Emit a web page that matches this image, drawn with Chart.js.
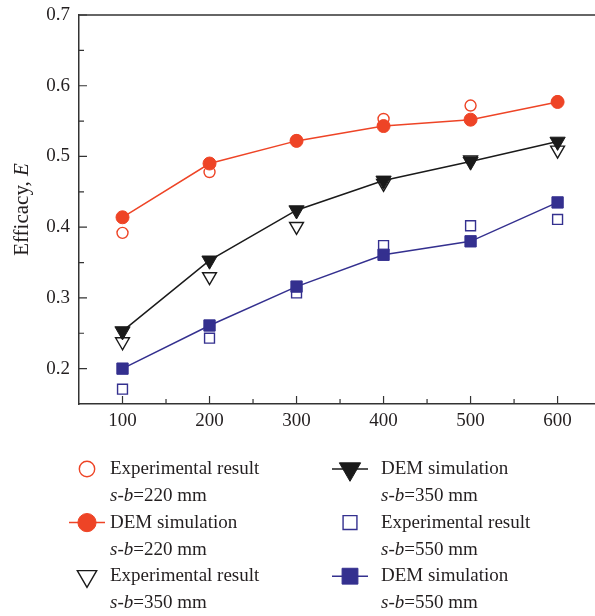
<!DOCTYPE html>
<html>
<head>
<meta charset="utf-8">
<script src="https://cdn.jsdelivr.net/npm/chart.js@4.4.1/dist/chart.umd.min.js"></script>
<style>
  html, body { margin: 0; padding: 0; background: #fff; overflow: hidden; }
  #wrap { position: relative; width: 595px; height: 616px; }
  #chart { display: block; }
</style>
</head>
<body>
<div id="wrap"><canvas id="chart"></canvas></div>
<script>
// Efficacy vs gap, experimental and DEM results
const gapValues = [100, 200, 300, 400, 500, 600];
const exp220 = [0.392, 0.478, 0.523, 0.553, 0.572, 0.578];
const dem220 = [0.414, 0.490, 0.522, 0.543, 0.552, 0.577];
const exp350 = [0.238, 0.330, 0.401, 0.462, 0.495, 0.509];
const dem350 = [0.253, 0.353, 0.424, 0.466, 0.493, 0.521];
const exp550 = [0.171, 0.243, 0.307, 0.374, 0.402, 0.411];
const dem550 = [0.200, 0.261, 0.316, 0.361, 0.380, 0.435];

const xTicks = [100, 200, 300, 400, 500, 600];
const xMinorTicks = [150, 250, 350, 450, 550];
const yTicks = [0.2, 0.3, 0.4, 0.5, 0.6, 0.7];
const yMinorTicks = [0.25, 0.35, 0.45, 0.55, 0.65];
const sbValues = ['220', '350', '550'];

const RED = '#ee4426';
const BLACK = '#1a1a1a';
const BLUE = '#34308f';
const TEXT = '#231f20';
const FONT = '"Liberation Serif", "DejaVu Serif", serif';

const pts = ys => gapValues.map((x, i) => ({ x: x, y: ys[i] }));

function expSet(ys, color, style, r, sb) {
    return {
        label: 'Experimental result', sb: sb,
        data: pts(ys), showLine: false, order: 2,
        pointStyle: style, pointRadius: r, pointHoverRadius: r,
        pointRotation: style === 'triangle' ? 180 : 0,
        pointBackgroundColor: 'rgba(0,0,0,0)', pointBorderColor: color,
        pointBorderWidth: 1.4, borderColor: color, borderWidth: 0
    };
}
function demSet(ys, color, style, r, sb) {
    return {
        label: 'DEM simulation', sb: sb,
        data: pts(ys), showLine: true, order: 1,
        pointStyle: style, pointRadius: r, pointHoverRadius: r,
        pointRotation: style === 'triangle' ? 180 : 0,
        pointBackgroundColor: color, pointBorderColor: color,
        pointBorderWidth: 1, borderColor: color, borderWidth: 1.5,
        tension: 0
    };
}

// y-title, top frame line, inward ticks and the two-column legend
const decorPlugin = {
    id: 'decor',
    afterDraw(chart) {
        const ctx = chart.ctx;
        const area = chart.chartArea;
        const xs = chart.scales.x, ys = chart.scales.y;
        ctx.save();
        ctx.strokeStyle = '#333';
        ctx.lineWidth = 1.5;
        ctx.beginPath();
        ctx.moveTo(area.left - 0.75, area.top);
        ctx.lineTo(area.right, area.top);
        ctx.stroke();

        ctx.lineWidth = 1.2;
        ctx.beginPath();
        xTicks.forEach(v => { const p = xs.getPixelForValue(v); ctx.moveTo(p, area.bottom); ctx.lineTo(p, area.bottom - 8); });
        xMinorTicks.forEach(v => { const p = xs.getPixelForValue(v); ctx.moveTo(p, area.bottom); ctx.lineTo(p, area.bottom - 5); });
        yTicks.forEach(v => { const p = ys.getPixelForValue(v); ctx.moveTo(area.left, p); ctx.lineTo(area.left + 8, p); });
        yMinorTicks.forEach(v => { const p = ys.getPixelForValue(v); ctx.moveTo(area.left, p); ctx.lineTo(area.left + 5, p); });
        ctx.stroke();

        // y axis title
        ctx.fillStyle = TEXT;
        ctx.textBaseline = 'middle';
        ctx.translate(22, (area.top + area.bottom) / 2);
        ctx.rotate(-Math.PI / 2);
        drawRuns(ctx, [['Efficacy, ', false], ['E', true]], 21, 'center', 0, 0);
        ctx.restore();

        // legend
        ctx.save();
        const cols = [{ mx: 87, tx: 110 }, { mx: 350, tx: 381 }];
        const top = 469, entryH = 53.6, lineH = 27;
        chart.data.datasets.forEach((ds, i) => {
            const col = cols[Math.floor(i / 3)];
            const y = top + (i % 3) * entryH;
            if (ds.showLine) {
                ctx.strokeStyle = ds.borderColor;
                ctx.lineWidth = ds.borderWidth;
                ctx.beginPath();
                ctx.moveTo(col.mx - 18, y);
                ctx.lineTo(col.mx + 18, y);
                ctx.stroke();
            }
            ctx.fillStyle = ds.pointBackgroundColor;
            ctx.strokeStyle = ds.pointBorderColor;
            ctx.lineWidth = ds.pointBorderWidth;
            Chart.helpers.drawPoint(ctx, {
                pointStyle: ds.pointStyle, rotation: ds.pointRotation,
                radius: ds.pointRadius * 1.4, borderWidth: ds.pointBorderWidth
            }, col.mx, y);
            ctx.fillStyle = TEXT;
            ctx.textBaseline = 'middle';
            drawRuns(ctx, [[ds.label, false]], 19, 'left', col.tx, y);
            drawRuns(ctx, [['s', true], ['-', false], ['b', true], ['=' + ds.sb + ' mm', false]], 19, 'left', col.tx, y + lineH);
        });
        ctx.restore();
    }
};

function drawRuns(ctx, runs, size, align, x, y) {
    const fontOf = it => (it ? 'italic ' : '') + size + 'px ' + FONT;
    let total = 0;
    runs.forEach(([t, it]) => { ctx.font = fontOf(it); total += ctx.measureText(t).width; });
    let cx = align === 'center' ? x - total / 2 : x;
    ctx.textAlign = 'left';
    runs.forEach(([t, it]) => {
        ctx.font = fontOf(it);
        ctx.fillText(t, cx, y);
        cx += ctx.measureText(t).width;
    });
}

const canvas = document.getElementById('chart');
new Chart(canvas, {
    type: 'line',
    data: {
        datasets: [
            expSet(exp220, RED, 'circle', 5.5, sbValues[0]),
            demSet(dem220, RED, 'circle', 6.5, sbValues[0]),
            expSet(exp350, BLACK, 'triangle', 8, sbValues[1]),
            demSet(dem350, BLACK, 'triangle', 8.8, sbValues[1]),
            expSet(exp550, BLUE, 'rect', 7, sbValues[2]),
            demSet(dem550, BLUE, 'rect', 8, sbValues[2])
        ]
    },
    options: {
        responsive: true,
        maintainAspectRatio: false,
        animation: false,
        events: [],
        layout: { autoPadding: false, padding: { top: 15, right: 0, left: 0, bottom: 0 } },
        plugins: { legend: { display: false }, tooltip: { enabled: false } },
        scales: {
            x: {
                type: 'linear', min: 50, max: 643,
                afterBuildTicks: s => { s.ticks = xTicks.map(v => ({ value: v })); },
                afterFit: s => { s.height = 212; s.paddingLeft = 0; s.paddingRight = 0; },
                grid: { display: false, drawTicks: false },
                border: { display: true, color: '#333', width: 1.5 },
                ticks: { color: TEXT, padding: 6, font: { family: FONT, size: 19 }, maxRotation: 0 }
            },
            y: {
                type: 'linear', min: 0.15, max: 0.7,
                afterBuildTicks: s => { s.ticks = yTicks.map(v => ({ value: v })); },
                afterFit: s => { s.width = 79; s.paddingTop = 0; s.paddingBottom = 0; },
                grid: { display: false, drawTicks: false },
                border: { display: true, color: '#333', width: 1.5 },
                ticks: { color: TEXT, padding: 9, font: { family: FONT, size: 19 }, callback: v => v.toFixed(1) }
            }
        }
    },
    plugins: [decorPlugin]
});
</script>
</body>
</html>
